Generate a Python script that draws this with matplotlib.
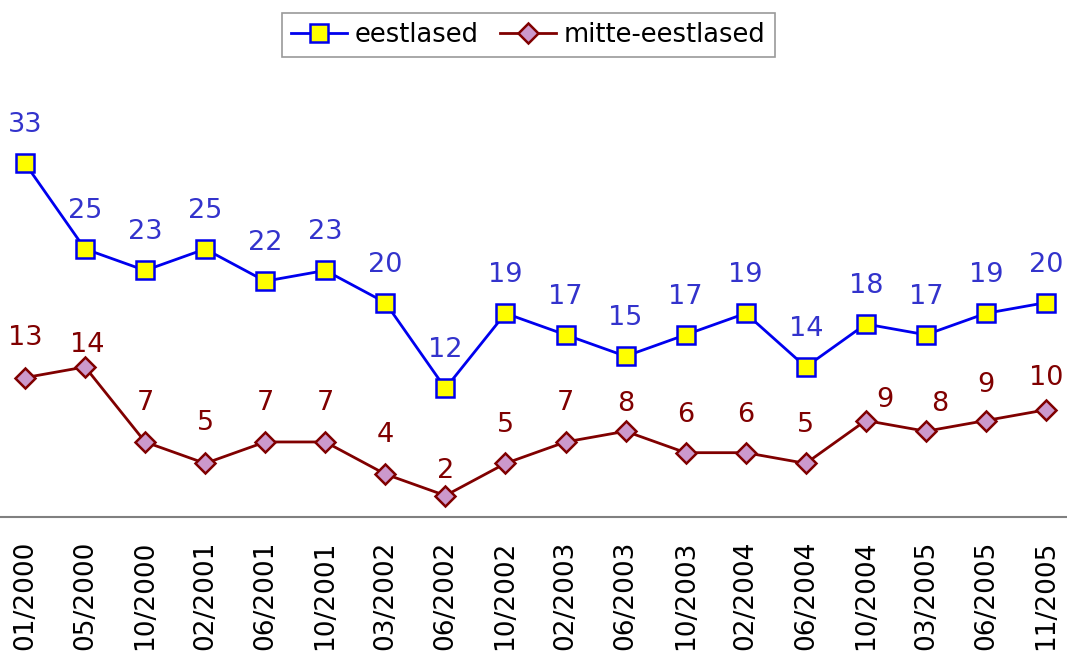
import matplotlib
matplotlib.use("Agg")
import matplotlib.pyplot as plt

dates = ["01/2000", "05/2000", "10/2000", "02/2001", "06/2001", "10/2001",
         "03/2002", "06/2002", "10/2002", "02/2003", "06/2003", "10/2003",
         "02/2004", "06/2004", "10/2004", "03/2005", "06/2005", "11/2005"]
eestlased = [33, 25, 23, 25, 22, 23, 20, 12, 19, 17, 15, 17, 19, 14, 18, 17, 19, 20]
mitte = [13, 14, 7, 5, 7, 7, 4, 2, 5, 7, 8, 6, 6, 5, 9, 8, 9, 10]

# label offsets in pixels (dx, dy) for the red series
red_off = [(0, 40), (2, 22), (0, 39), (0, 40), (0, 39), (0, 39), (0, 39), (0, 25),
           (0, 38), (0, 39), (0, 27), (0, 38), (0, 38), (0, 38), (19, 21), (14, 27),
           (0, 36), (0, 32)]

plt.rcParams["font.family"] = "DejaVu Sans"

fig = plt.figure(figsize=(10.67, 6.55), dpi=100)
ax = fig.add_axes([0, 1 - 517 / 655, 1, (517 - 60) / 655])

x = list(range(len(dates)))
ax.plot(x, eestlased, color="#0000ee", lw=2, marker="s", ms=13,
        mfc="#ffff00", mec="#0000ee", mew=1.8, label="eestlased", zorder=3)
ax.plot(x, mitte, color="#800000", lw=2, marker="D", ms=10.5,
        mfc="#cc99cc", mec="#800000", mew=1.8, label="mitte-eestlased", zorder=3)

for i, v in enumerate(eestlased):
    ax.annotate(str(v), (i, v), xytext=(0, 38), textcoords="offset pixels",
                ha="center", va="center", fontsize=19.5, color="#3333cc")
for i, v in enumerate(mitte):
    dx, dy = red_off[i]
    ax.annotate(str(v), (i, v), xytext=(dx, dy), textcoords="offset pixels",
                ha="center", va="center", fontsize=19.5, color="#800000")

ax.set_xlim(-25 / 60.06, 17 + 21 / 60.06)
ax.set_ylim(0, (516.6 - 60) / 10.71)
ax.set_xticks(x)
ax.set_xticklabels(dates, rotation=90, fontsize=19)
ax.tick_params(axis="x", length=0, pad=17)
ax.set_yticks([])
for s in ["top", "left", "right"]:
    ax.spines[s].set_visible(False)
ax.spines["bottom"].set_color("#808080")
ax.spines["bottom"].set_linewidth(1.5)
ax.patch.set_alpha(0)

leg = fig.legend(loc="upper center", bbox_to_anchor=(0.495, 0.98), ncol=2,
                 fontsize=18.5, frameon=True, fancybox=False, handlelength=2.2,
                 handletextpad=0.3, columnspacing=0.8, borderpad=0.35,
                 borderaxespad=0)
leg.get_frame().set_edgecolor("#808080")
leg.get_frame().set_linewidth(1.2)

fig.savefig("out.png", dpi=100)
